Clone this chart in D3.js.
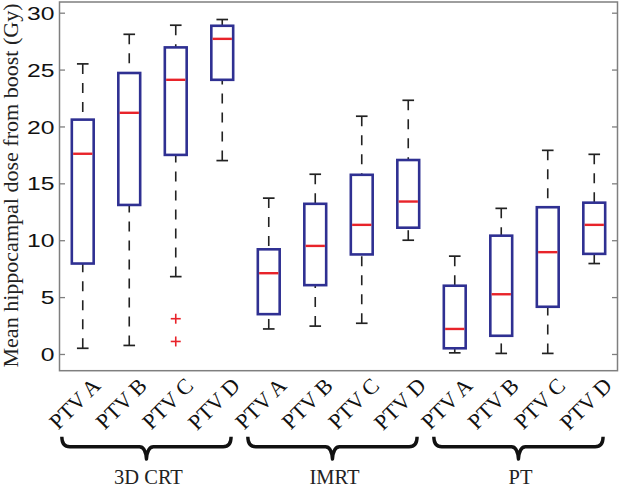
<!DOCTYPE html>
<html><head><meta charset="utf-8">
<script src="https://cdn.jsdelivr.net/npm/d3@7"></script>
<style>html,body{margin:0;padding:0;background:#fff;}svg{display:block;}</style>
</head><body>
<svg id="chart" width="620" height="489"></svg>
<script>
const categories = ["PTV A","PTV B","PTV C","PTV D","PTV A","PTV B","PTV C","PTV D","PTV A","PTV B","PTV C","PTV D"];
const groups = ["3D CRT","IMRT","PT"];
const lowerWhisker = [0.5, 0.75, 6.8, 17.0, 2.2, 2.45, 2.7, 10.0, 0.1, 0.05, 0.05, 7.95];
const q1          = [7.95, 13.1, 17.5, 24.1, 3.5, 6.05, 8.75, 11.1, 0.5, 1.6, 4.15, 8.8];
const median      = [17.6, 21.2, 24.1, 27.7, 7.1, 9.5, 11.35, 13.4, 2.2, 5.25, 8.95, 11.35];
const q3          = [20.6, 24.7, 26.95, 28.85, 9.2, 13.2, 15.75, 17.05, 6.0, 10.4, 12.9, 13.3];
const upperWhisker= [25.5, 28.1, 28.9, 29.4, 13.7, 15.8, 20.9, 22.3, 8.6, 12.8, 17.9, 17.55];
const outlierBox  = [3, 3];
const outlierVal  = [3.1, 1.1];
const yTicks = [0, 5, 10, 15, 20, 25, 30];
const yLabel = "Mean hippocampal dose from boost (Gy)";

const svg = d3.select("#chart");
const L = 59.5, R = 617.5, T = 2, B = 370.7;
const x = d3.scaleLinear().domain([0.5, 12.5]).range([L, R]);
const y = d3.scaleLinear().domain([-1.47, 30.94]).range([B, T]);

const boxColor = "#2f3092", medColor = "#e8232a", axisColor = "#7f7f7f";
const boxW = 0.47, capW = 0.25;

// axes
const gl = svg.append("g").attr("transform", `translate(${L},0)`)
  .call(d3.axisLeft(y).tickValues(yTicks).tickSize(-5.5).tickFormat(d3.format("d")));
const gr = svg.append("g").attr("transform", `translate(${R},0)`)
  .call(d3.axisRight(y).tickValues(yTicks).tickSize(-5.5).tickFormat(""));
[gl, gr].forEach(g => {
  g.select(".domain").remove();
  g.selectAll(".tick line").attr("stroke", axisColor).attr("stroke-width", 1.3);
});
gl.selectAll(".tick text")
  .attr("x", 0).attr("dy", "0.35em")
  .attr("transform", "translate(-5,0) scale(1.3,1)")
  .attr("fill", "#111")
  .style("font-family", "'Liberation Sans', Arial, sans-serif")
  .style("font-size", "19px");

// frame
svg.append("rect").attr("x", L).attr("y", T).attr("width", R - L).attr("height", B - T)
  .attr("fill", "none").attr("stroke", axisColor).attr("stroke-width", 1.5);

const idx = d3.range(categories.length);
const plot = svg.append("g");

// whiskers (drawn from cap toward box)
plot.selectAll(".wu").data(idx).join("line")
  .attr("x1", i => x(i + 1)).attr("x2", i => x(i + 1))
  .attr("y1", i => y(upperWhisker[i])).attr("y2", i => y(q3[i]))
  .attr("stroke", "#222").attr("stroke-width", 1.6).attr("stroke-dasharray", "10,9");
plot.selectAll(".wl").data(idx).join("line")
  .attr("x1", i => x(i + 1)).attr("x2", i => x(i + 1))
  .attr("y1", i => y(lowerWhisker[i])).attr("y2", i => y(q1[i]))
  .attr("stroke", "#222").attr("stroke-width", 1.6).attr("stroke-dasharray", "10,9");
// caps
[upperWhisker, lowerWhisker].forEach(arr => {
  plot.append("g").selectAll("line").data(idx).join("line")
    .attr("x1", i => x(i + 1 - capW / 2)).attr("x2", i => x(i + 1 + capW / 2))
    .attr("y1", i => y(arr[i])).attr("y2", i => y(arr[i]))
    .attr("stroke", "#222").attr("stroke-width", 1.7);
});
// boxes
plot.selectAll(".box").data(idx).join("rect")
  .attr("x", i => x(i + 1 - boxW / 2)).attr("width", i => x(i + 1 + boxW / 2) - x(i + 1 - boxW / 2))
  .attr("y", i => y(q3[i])).attr("height", i => y(q1[i]) - y(q3[i]))
  .attr("fill", "none").attr("stroke", boxColor).attr("stroke-width", 2.6);
// medians
plot.selectAll(".med").data(idx).join("line")
  .attr("x1", i => x(i + 1 - boxW / 2) + 1.3).attr("x2", i => x(i + 1 + boxW / 2) - 1.3)
  .attr("y1", i => y(median[i])).attr("y2", i => y(median[i]))
  .attr("stroke", medColor).attr("stroke-width", 2.4);
// outliers
const oidx = d3.range(outlierVal.length);
const og = plot.selectAll(".out").data(oidx).join("g")
  .attr("transform", i => `translate(${x(outlierBox[i])},${y(outlierVal[i])})`);
og.append("line").attr("x1", -5).attr("x2", 5).attr("stroke", medColor).attr("stroke-width", 1.6);
og.append("line").attr("y1", -5).attr("y2", 5).attr("stroke", medColor).attr("stroke-width", 1.6);

// x tick labels (rotated)
svg.append("g").selectAll("text").data(idx).join("text")
  .attr("transform", i => `translate(${x(i + 1) + 19},387) rotate(-45)`)
  .attr("text-anchor", "end")
  .attr("fill", "#111")
  .style("font-family", "'Liberation Serif', 'Times New Roman', serif")
  .style("font-size", "22px")
  .text(i => categories[i]);

// braces
const yTop = 436.7, yLine = 446.7, yTip = 459;
const bg = svg.append("g");
groups.forEach((gname, g) => {
  const x0 = x(g * 4 + 1 - 0.45), x1 = x(g * 4 + 4 + 0.19);
  const xc = (x0 + x1) / 2;
  const r = 8, r2 = 7;
  const p = `M${x0},${yTop} Q${x0},${yLine} ${x0 + r},${yLine} L${xc - r2},${yLine} Q${xc - 1},${yLine} ${xc},${yTip} Q${xc + 1},${yLine} ${xc + r2},${yLine} L${x1 - r},${yLine} Q${x1},${yLine} ${x1},${yTop}`;
  bg.append("path").attr("d", p).attr("fill", "none").attr("stroke", "#111").attr("stroke-width", 3.4)
    .attr("stroke-linejoin", "round");
  bg.append("text").attr("x", xc + 2).attr("y", 484).attr("text-anchor", "middle")
    .attr("fill", "#222")
    .style("font-family", "'Liberation Serif', 'Times New Roman', serif")
    .style("font-size", "20.5px")
    .text(gname);
});

// y label
svg.append("text")
  .attr("transform", `translate(17.5,${(3 + 368) / 2}) rotate(-90)`)
  .attr("text-anchor", "middle")
  .attr("fill", "#222")
  .attr("textLength", 364).attr("lengthAdjust", "spacingAndGlyphs")
  .style("font-family", "'Liberation Serif', 'Times New Roman', serif")
  .style("font-size", "21.5px")
  .text(yLabel);
</script>
</body></html>
